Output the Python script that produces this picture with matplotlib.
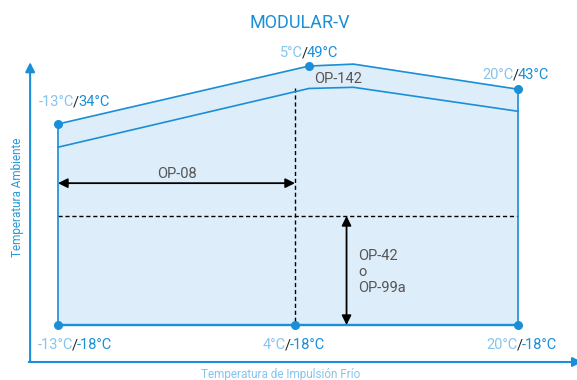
import matplotlib.pyplot as plt

# chart data (x = first temperature, y = second temperature)
corner_x = [-13, 5, 20, -13, 4, 20]
corner_y = [34, 49, 43, -18, -18, -18]
label_light = ['-13°C', '5°C', '20°C', '-13°C', '4°C', '20°C']
label_dark = ['34°C', '49°C', '43°C', '-18°C', '-18°C', '-18°C']

outer_x = [-13, 5, 8.2, 20]
outer_y = [34, 49, 49.5, 43]
inner_x = [-13, 5, 8.2, 20]
inner_y = [28, 43.2, 43.5, 37.3]

op08_y = 18.7
op42_x = 7.7
split_y = 10.2
split_x = 4

blue = '#1a8fd8'
light = '#86c4ec'
fill = '#deedfa'
grey = '#555555'

plt.rcParams['font.family'] = ['Roboto', 'DejaVu Sans']

fig = plt.figure(figsize=(5.77, 3.80), dpi=100)
ax = fig.add_axes([0, 0, 1, 1])
ax.set_xlim(-17.161, 24.234)
ax.set_ylim(-32.23, 66.09)
ax.axis('off')

# envelope
poly_x = outer_x + [20, -13]
poly_y = outer_y + [-18, -18]
ax.fill(poly_x, poly_y, color=fill, zorder=1)
ax.plot(outer_x, outer_y, color=blue, lw=1.2, zorder=3)
ax.plot(inner_x, inner_y, color=blue, lw=1.2, zorder=3)
ax.plot([-13, -13], [34, -18], color=blue, lw=1.2, zorder=3)
ax.plot([20, 20], [43, -18], color=blue, lw=1.2, zorder=3)
ax.plot([-13, 20], [-18, -18], color=blue, lw=1.7, zorder=3)
ax.scatter(corner_x, corner_y, s=30, color=blue, zorder=5)

# dashed lines
ax.plot([-13, 20], [split_y, split_y], color='black', lw=1, ls=(0, (3, 2)), zorder=2)
ax.plot([split_x, split_x], [43.2, -18], color='black', lw=1, ls=(0, (3, 2)), zorder=2)

# arrows
ax.annotate('', xy=(-13, op08_y), xytext=(split_x, op08_y),
            arrowprops=dict(arrowstyle='<|-|>', color='black', lw=1.3,
                            mutation_scale=14, shrinkA=0, shrinkB=0), zorder=4)
ax.annotate('', xy=(op42_x, split_y), xytext=(op42_x, -18),
            arrowprops=dict(arrowstyle='<|-|>', color='black', lw=1.3,
                            mutation_scale=14, shrinkA=0, shrinkB=0), zorder=4)

ax.text(-4.5, op08_y + 0.6, 'OP-08', color=grey, fontsize=10.5,
        ha='center', va='bottom')
ax.text(op42_x + 0.85, -4.3, 'OP-42\no\nOP-99a', color=grey, fontsize=10.5,
        ha='left', va='center', linespacing=1.15)
ax.text(7.1, 45.6, 'OP-142', color=grey, fontsize=10.5,
        ha='center', va='center')

# corner labels
offsets = [(18, 22), (-4, 13), (-2, 14), (17, -20), (-7, -20), (2, -20)]
for x, y, l1, l2, (dx, dy) in zip(corner_x, corner_y, label_light, label_dark, offsets):
    ax.annotate('/', (x, y), xytext=(dx, dy), textcoords='offset pixels',
                ha='center', va='center', fontsize=10.5, color='#222222')
    ax.annotate(l1, (x, y), xytext=(dx - 2, dy), textcoords='offset pixels',
                ha='right', va='center', fontsize=10.5, color=light)
    ax.annotate(l2, (x, y), xytext=(dx + 2, dy), textcoords='offset pixels',
                ha='left', va='center', fontsize=10.5, color=blue)

# axis arrows
ax.annotate('', xy=(-15.0, 50), xytext=(-15.0, -27.57),
            arrowprops=dict(arrowstyle='-|>', color=blue, lw=1.5,
                            mutation_scale=14, shrinkA=0, shrinkB=0))
ax.annotate('', xy=(24.6, -27.57), xytext=(-15.1, -27.57),
            arrowprops=dict(arrowstyle='-|>', color=blue, lw=1.5,
                            mutation_scale=14, shrinkA=0, shrinkB=0),
            annotation_clip=False)

ax.text(-15.87, 15.1, 'Temperatura Ambiente', rotation=90, color='#2a9ad8',
        fontsize=8.5, ha='center', va='center')
ax.text(3.0, -30.8, 'Temperatura de Impulsión Frío', color=light,
        fontsize=8.5, ha='center', va='center')
ax.text(4.36, 60.2, 'MODULAR-V', color=blue, fontsize=13,
        ha='center', va='center')

fig.savefig('out.png', dpi=100)
